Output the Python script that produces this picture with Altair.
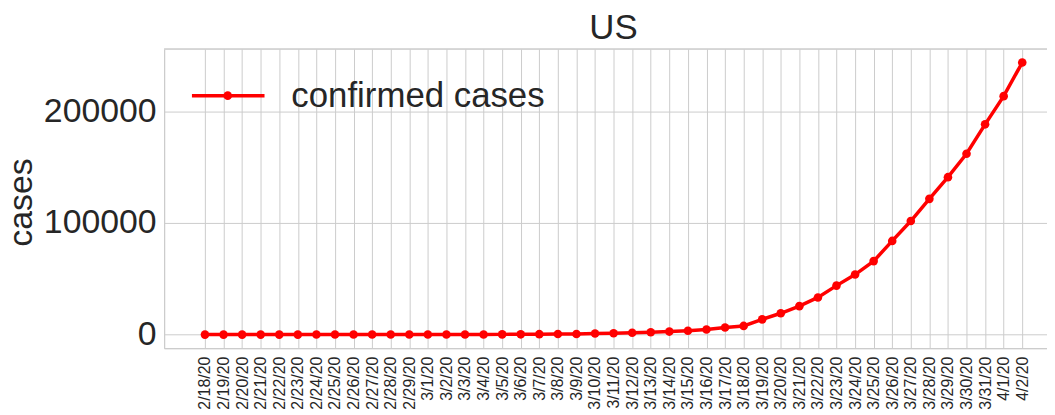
import altair as alt
import pandas as pd

dates = ["2/18/20", "2/19/20", "2/20/20", "2/21/20", "2/22/20", "2/23/20", "2/24/20",
         "2/25/20", "2/26/20", "2/27/20", "2/28/20", "2/29/20", "3/1/20", "3/2/20",
         "3/3/20", "3/4/20", "3/5/20", "3/6/20", "3/7/20", "3/8/20", "3/9/20", "3/10/20",
         "3/11/20", "3/12/20", "3/13/20", "3/14/20", "3/15/20", "3/16/20", "3/17/20",
         "3/18/20", "3/19/20", "3/20/20", "3/21/20", "3/22/20", "3/23/20", "3/24/20",
         "3/25/20", "3/26/20", "3/27/20", "3/28/20", "3/29/20", "3/30/20", "3/31/20",
         "4/1/20", "4/2/20"]
cases = [13, 13, 13, 15, 15, 15, 51, 51, 57, 58, 60, 68, 74, 98, 118, 149, 217, 262,
         402, 518, 583, 959, 1281, 1663, 2179, 2727, 3499, 4632, 6421, 7786, 13680,
         19101, 25493, 33276, 43847, 53740, 65778, 83836, 101657, 121478, 140886,
         161807, 188172, 213372, 243453]
y_ticks = [0, 100000, 200000]
series_name = "confirmed cases"
title_text = "US"

FONT = "Liberation Sans"
TXT = "#262626"
GRID = "#cccccc"
RED = "#ff0000"

W, H = 888, 301
n = len(dates)
step = 822 / (n - 1)
x_lo = -0.05 * (n - 1)
x_hi = x_lo + W / step
span = max(cases) - min(cases)
y_lo = min(cases) - 0.05 * span
y_hi = max(cases) + 0.05 * span

df = pd.DataFrame({"i": list(range(n)), "date": dates, "cases": cases})

label_arr = "[" + ",".join("'" + d + "'" for d in dates) + "]"

x_enc = alt.X(
    "i:Q",
    scale=alt.Scale(domain=[x_lo, x_hi], nice=False, zero=False),
    axis=alt.Axis(
        values=list(range(n)), labelExpr=label_arr + "[datum.value]",
        labelAngle=-90, labelFontSize=16, labelColor=TXT, labelFont=FONT,
        labelPadding=8, ticks=False, grid=True, gridColor=GRID, gridWidth=1,
        domain=True, domainColor=GRID, domainWidth=1.2, title=None,
        labelOverlap=False, labelBound=False, labelFlush=False,
    ),
)
y_enc = alt.Y(
    "cases:Q",
    scale=alt.Scale(domain=[y_lo, y_hi], nice=False, zero=False),
    axis=alt.Axis(
        values=y_ticks, format="d", labelFontSize=34, labelColor=TXT, labelFont=FONT,
        labelPadding=8, ticks=False, grid=True, gridColor=GRID, gridWidth=1,
        domain=True, domainColor=GRID, domainWidth=1.2,
        title="cases", titleFontSize=34, titleFont=FONT, titleColor=TXT,
        titleFontWeight="normal", titleX=-133, titleY=154, titleAngle=270,
        titleAlign="center", titleBaseline="alphabetic",
    ),
)

base = alt.Chart(df)
line = base.mark_line(color=RED, strokeWidth=3.5).encode(x=x_enc, y=y_enc)
pts = base.mark_point(color=RED, filled=True, opacity=1, size=75).encode(x=x_enc, y=y_enc)

top_border = alt.Chart(pd.DataFrame({"k": [0]})).mark_rule(color=GRID, strokeWidth=1.2).encode(
    x=alt.value(0), x2=alt.value(W), y=alt.value(0)
)

leg_df = pd.DataFrame({"label": [series_name]})
leg_line = alt.Chart(leg_df).mark_rule(color=RED, strokeWidth=3.5).encode(
    x=alt.value(28), x2=alt.value(101), y=alt.value(47)
)
leg_pt = alt.Chart(leg_df).mark_point(color=RED, filled=True, opacity=1, size=75).encode(
    x=alt.value(64), y=alt.value(47)
)
leg_txt = alt.Chart(leg_df).mark_text(
    align="left", baseline="middle", fontSize=35, font=FONT, color=TXT
).encode(x=alt.value(128), y=alt.value(47), text="label:N")

chart = alt.layer(top_border, line, pts, leg_line, leg_pt, leg_txt).properties(
    width=W, height=H,
    title=alt.TitleParams(title_text, fontSize=35, font=FONT, fontWeight="normal",
                          color=TXT, anchor="middle", offset=2, dx=8),
    autosize=alt.AutoSizeParams(type="none"),
    padding={"left": 157, "top": 40, "right": 0, "bottom": 66},
).configure_view(stroke=None).configure(background="white")

chart.save("out.html", embed_options={"renderer": "svg", "actions": False})
